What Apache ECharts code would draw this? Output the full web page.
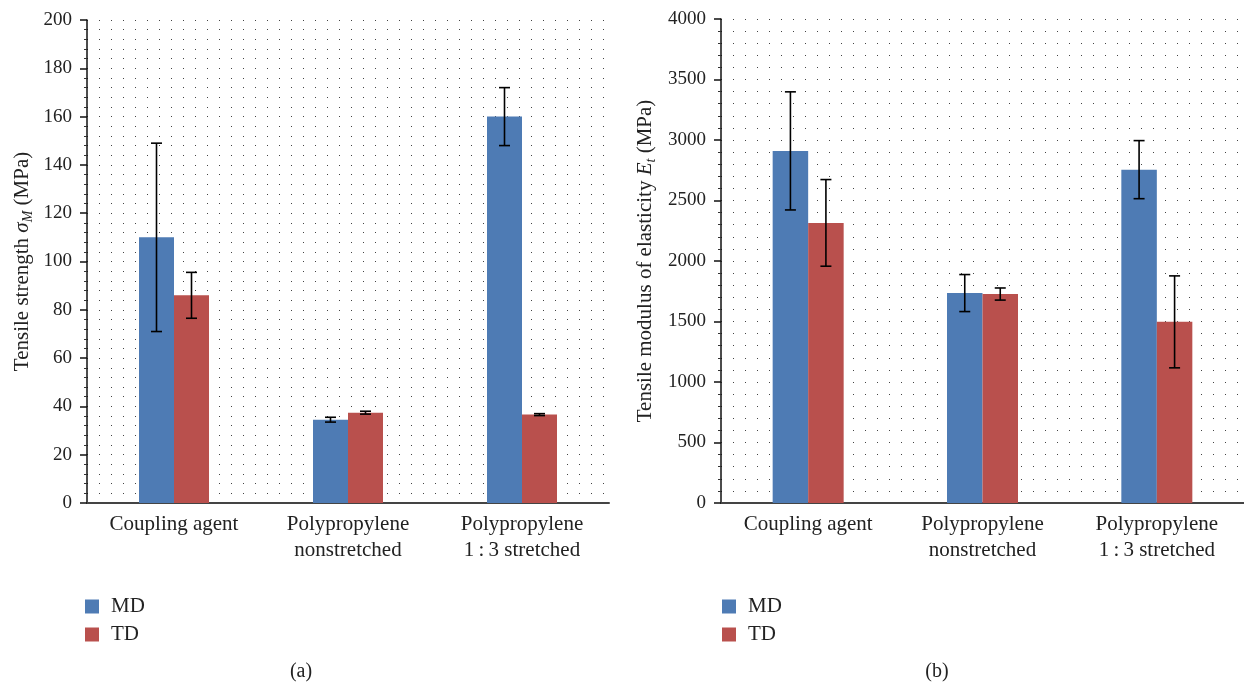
<!DOCTYPE html>
<html>
<head>
<meta charset="utf-8">
<script src="https://cdn.jsdelivr.net/npm/echarts@6/dist/echarts.min.js"></script>
<style>html,body{margin:0;padding:0;background:#fff}#c{width:1244px;height:685px}</style>
</head>
<body>
<div id="c"></div>
<script>
const categories = ['Coupling agent', 'Polypropylene\nnonstretched', 'Polypropylene\n1\u2009:\u20093 stretched'];
const seriesNames = ['MD', 'TD'];
// (a) Tensile strength (MPa)
const strengthMD = [110, 34.5, 160];
const strengthTD = [86, 37.4, 36.6];
const strengthMDErr = [39, 1.0, 12];
const strengthTDErr = [9.5, 0.6, 0.4];
const strengthTicks = [0, 20, 40, 60, 80, 100, 120, 140, 160, 180, 200];
// (b) Tensile modulus (MPa)
const modulusMD = [2910, 1735, 2755];
const modulusTD = [2315, 1727, 1497];
const modulusMDErr = [488, 153, 240];
const modulusTDErr = [358, 50, 380];
const modulusTicks = [0, 500, 1000, 1500, 2000, 2500, 3000, 3500, 4000];

const FONT = 'Liberation Serif';
const TXT = '#222';
const BLUE = '#4E7BB4';
const RED = '#B9504D';

function errData(vals, errs) {
  return vals.map((v, i) => [i, v - errs[i], v + errs[i]]);
}
function errRender(offset) {
  return function (params, api) {
    const ci = api.value(0);
    const lo = api.coord([ci, api.value(1)]);
    const hi = api.coord([ci, api.value(2)]);
    const x = lo[0] + offset;
    const cap = 5.5;
    const st = { stroke: '#000', lineWidth: 1.6 };
    return {
      type: 'group',
      children: [
        { type: 'line', shape: { x1: x, y1: lo[1], x2: x, y2: hi[1] }, style: st },
        { type: 'line', shape: { x1: x - cap, y1: lo[1], x2: x + cap, y2: lo[1] }, style: st },
        { type: 'line', shape: { x1: x - cap, y1: hi[1], x2: x + cap, y2: hi[1] }, style: st }
      ]
    };
  };
}

function yAxisCfg(gi, ticks, name, gap, rich) {
  return {
    type: 'value', gridIndex: gi,
    min: ticks[0], max: ticks[ticks.length - 1], interval: ticks[1] - ticks[0],
    name: name, nameLocation: 'middle', nameGap: gap, nameRotate: 90,
    nameTextStyle: { fontFamily: FONT, fontSize: 21, color: TXT, rich: rich },
    axisLine: { show: true, lineStyle: { color: '#111', width: 1.5 } },
    axisTick: { show: true, length: 7, lineStyle: { color: '#111', width: 1.5 } },
    minorTick: { show: true, splitNumber: 5, length: 3, lineStyle: { color: '#333', width: 1 } },
    axisLabel: { fontFamily: FONT, fontSize: 19, color: TXT, margin: 15, formatter: v => String(v) },
    splitLine: { show: true, lineStyle: { color: '#444', width: 1, type: [1, 11] } },
    minorSplitLine: { show: true, lineStyle: { color: '#444', width: 1, type: [1, 11] } }
  };
}
function xAxisCfg(gi) {
  return {
    type: 'category', gridIndex: gi, data: categories,
    axisLine: { show: true, lineStyle: { color: '#444', width: 2 } },
    axisTick: { show: false },
    axisLabel: { fontFamily: FONT, fontSize: 21, color: TXT, margin: 8, lineHeight: 26, interval: 0 },
    splitLine: { show: false }
  };
}
const richName = {
  it: { fontFamily: FONT, fontSize: 21, fontStyle: 'italic', color: TXT, lineHeight: 26 },
  sub: { fontFamily: FONT, fontSize: 14, fontStyle: 'italic', color: TXT, lineHeight: 13, verticalAlign: 'bottom' },
  n: { fontFamily: FONT, fontSize: 21, color: TXT, lineHeight: 26 }
};

const bw1 = 35, bw2 = 35.5;
const legendCfg = (left) => ({
  orient: 'vertical', left: left, top: 596, padding: 0, itemWidth: 14, itemHeight: 14, itemGap: 7, icon: 'rect',
  data: seriesNames, selectedMode: false,
  textStyle: { fontFamily: FONT, fontSize: 21, color: TXT, lineHeight: 20, padding: [0, 0, 0, 7] }
});
const chart = echarts.init(document.getElementById('c'));
chart.setOption({
  animation: false,
  backgroundColor: '#fff',
  grid: [
    { left: 87, top: 20, width: 522, height: 483 },
    { left: 721, top: 19, width: 528, height: 484 }
  ],
  xAxis: [xAxisCfg(0), xAxisCfg(1)],
  yAxis: [
    yAxisCfg(0, strengthTicks, '{n|Tensile strength }{it|σ}{sub|M}{n| (MPa)}', 52, richName),
    yAxisCfg(1, modulusTicks, '{n|Tensile modulus of elasticity }{it|E}{sub|t}{n| (MPa)}', 63, richName)
  ],
  legend: [legendCfg(85), legendCfg(722)],
  graphic: [
    { type: 'text', x: 301, y: 672, style: { text: '(a)', fontFamily: FONT, fontSize: 20, fill: TXT, textAlign: 'center', textVerticalAlign: 'middle' } },
    { type: 'text', x: 937, y: 672, style: { text: '(b)', fontFamily: FONT, fontSize: 20, fill: TXT, textAlign: 'center', textVerticalAlign: 'middle' } }
  ],
  series: [
    { name: 'MD', type: 'bar', xAxisIndex: 0, yAxisIndex: 0, data: strengthMD, barWidth: bw1, barGap: '0%', itemStyle: { color: BLUE } },
    { name: 'TD', type: 'bar', xAxisIndex: 0, yAxisIndex: 0, data: strengthTD, barWidth: bw1, barGap: '0%', itemStyle: { color: RED } },
    { name: 'MD', type: 'bar', xAxisIndex: 1, yAxisIndex: 1, data: modulusMD, barWidth: bw2, barGap: '0%', itemStyle: { color: BLUE } },
    { name: 'TD', type: 'bar', xAxisIndex: 1, yAxisIndex: 1, data: modulusTD, barWidth: bw2, barGap: '0%', itemStyle: { color: RED } },
    { name: 'errA1', type: 'custom', xAxisIndex: 0, yAxisIndex: 0, renderItem: errRender(-bw1 / 2), data: errData(strengthMD, strengthMDErr), z: 5 },
    { name: 'errA2', type: 'custom', xAxisIndex: 0, yAxisIndex: 0, renderItem: errRender(bw1 / 2), data: errData(strengthTD, strengthTDErr), z: 5 },
    { name: 'errB1', type: 'custom', xAxisIndex: 1, yAxisIndex: 1, renderItem: errRender(-bw2 / 2), data: errData(modulusMD, modulusMDErr), z: 5 },
    { name: 'errB2', type: 'custom', xAxisIndex: 1, yAxisIndex: 1, renderItem: errRender(bw2 / 2), data: errData(modulusTD, modulusTDErr), z: 5 }
  ]
});
</script>
</body>
</html>
